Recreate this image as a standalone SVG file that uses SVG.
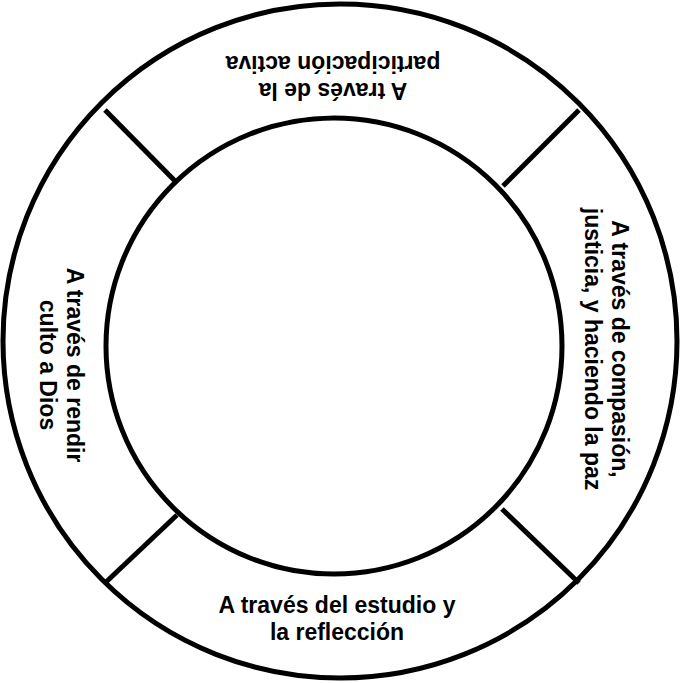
<svg xmlns="http://www.w3.org/2000/svg" width="682" height="683" viewBox="0 0 682 683">
<style>
.ring{fill:none;stroke:#000;stroke-width:5}
.div{stroke:#000;stroke-width:5;fill:none}
.t{font-family:"Liberation Sans",Arial,sans-serif;font-weight:bold;font-size:23px;fill:#000;text-anchor:middle}
</style>
<rect width="682" height="683" fill="#fff"/>
<g id="outer"><circle class="ring" cx="340" cy="341" r="337"/></g>
<g id="inner"><circle class="ring" cx="334" cy="346" r="228"/></g>
<g id="connectors">
<line class="div" x1="105" y1="110" x2="177" y2="183"/>
<line class="div" x1="579" y1="110" x2="503" y2="186"/>
<line class="div" x1="105" y1="583" x2="177" y2="515"/>
<line class="div" x1="579" y1="583" x2="502" y2="509"/>
</g>
<g id="top" transform="translate(333,83) rotate(180)">
<text class="t" x="0" y="0">A través de la</text>
<text class="t" x="0" y="27">participación activa</text>
</g>
<g id="right" transform="translate(612,349) rotate(90)">
<text class="t" x="0" y="0">A través de compasión,</text>
<text class="t" x="0" y="27">justicia, y haciendo la paz</text>
</g>
<g id="bottom">
<text class="t" x="337" y="613">A través del estudio y</text>
<text class="t" x="337" y="640">la reflección</text>
</g>
<g id="left" transform="translate(67,365) rotate(90)">
<text class="t" x="0" y="0">A través de rendir</text>
<text class="t" x="0" y="27">culto a Dios</text>
</g>
</svg>
